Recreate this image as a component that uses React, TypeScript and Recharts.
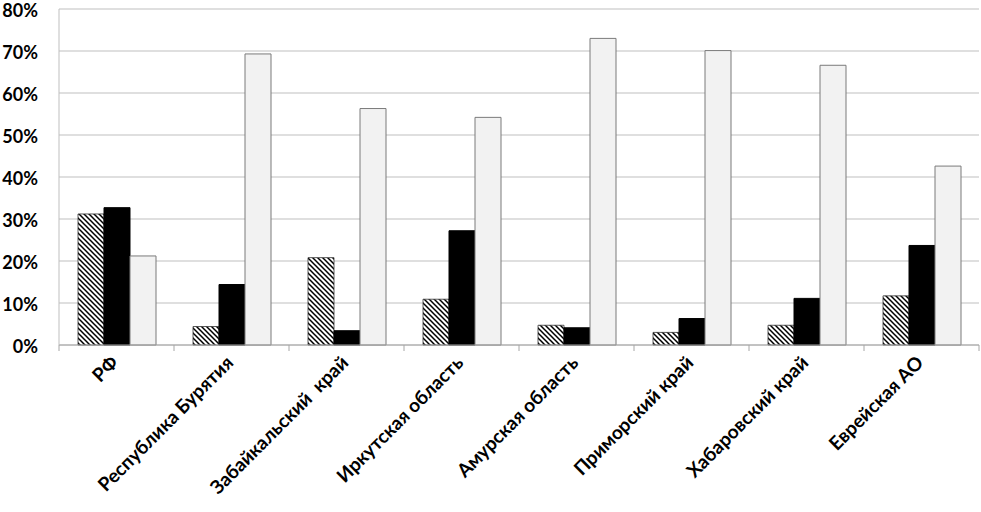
import { BarChart, Bar, XAxis, YAxis, CartesianGrid } from 'recharts'

const REGIONS = [
  'РФ',
  'Республика Бурятия',
  'Забайкальский  край',
  'Иркутская область',
  'Амурская область',
  'Приморский край',
  'Хабаровский край',
  'Еврейская АО',
]
const HATCHED = [31.2, 4.4, 20.8, 10.9, 4.7, 3.0, 4.7, 11.7]
const BLACK = [32.7, 14.4, 3.4, 27.2, 4.1, 6.3, 11.1, 23.7]
const LIGHT = [21.2, 69.3, 56.3, 54.2, 73.0, 70.1, 66.6, 42.6]
const Y_TICKS = [0, 10, 20, 30, 40, 50, 60, 70, 80]

const W = 981
const H = 512
const PLOT_LEFT = 59
const PLOT_RIGHT = 979
const BAND = (PLOT_RIGHT - PLOT_LEFT) / REGIONS.length
const FONT = 'Lato, "Open Sans", sans-serif'

const data = REGIONS.map((name, i) => ({
  name,
  hatched: HATCHED[i],
  black: BLACK[i],
  light: LIGHT[i],
}))

function CategoryTick(props: any) {
  const { x, y, payload, index } = props
  const half = BAND / 2
  const tx = x + 3
  const ty = y + 19
  return (
    <g>
      <line x1={x - half} y1={y} x2={x - half} y2={y + 6} stroke="#a6a6a6" />
      {index === REGIONS.length - 1 && (
        <line x1={x + half} y1={y} x2={x + half} y2={y + 6} stroke="#a6a6a6" />
      )}
      <text
        x={tx}
        y={ty}
        textAnchor="end"
        transform={`rotate(-45, ${tx}, ${ty})`}
        fontFamily={FONT}
        fontWeight={700}
        fontSize={19}
        fill="#000"
        style={{ whiteSpace: 'pre' }}
      >
        {payload.value}
      </text>
    </g>
  )
}

export default function App() {
  return (
    <div style={{ position: 'absolute', left: 0, top: 0, width: W, height: H, background: '#fff' }}>
      <svg width={0} height={0} style={{ position: 'absolute' }}>
        <defs>
          <pattern id="hatch" width={5} height={5} patternUnits="userSpaceOnUse">
            <rect width={5} height={5} fill="#fff" />
            <path d="M-1,-1 L6,6 M4,-1 L6,1 M-1,4 L1,6" stroke="#000" strokeWidth={1.5} />
          </pattern>
        </defs>
      </svg>
      <BarChart
        width={W}
        height={H}
        data={data}
        margin={{ top: 9, right: W - PLOT_RIGHT, bottom: 0, left: 0 }}
        barCategoryGap={19}
        barGap={0}
      >
        <CartesianGrid vertical={false} stroke="#bfbfbf" strokeWidth={1.2} />
        <XAxis
          dataKey="name"
          height={167}
          interval={0}
          axisLine={{ stroke: '#a6a6a6' }}
          tickLine={false}
          tickSize={0}
          tickMargin={0}
          tick={<CategoryTick />}
        />
        <YAxis
          width={PLOT_LEFT}
          domain={[0, 80]}
          ticks={Y_TICKS}
          interval={0}
          axisLine={{ stroke: '#bfbfbf' }}
          tickLine={false}
          tickSize={0}
          tickMargin={21}
          tickFormatter={(v: number) => `${v}%`}
          tick={{ fontFamily: FONT, fontWeight: 700, fontSize: 18, fill: '#000', dy: 2 }}
        />
        <Bar dataKey="hatched" fill="url(#hatch)" stroke="#333" strokeWidth={0.8} isAnimationActive={false} />
        <Bar dataKey="black" fill="#000" stroke="#000" isAnimationActive={false} />
        <Bar dataKey="light" fill="#f2f2f2" stroke="#7a7a7a" strokeWidth={1} isAnimationActive={false} />
      </BarChart>
    </div>
  )
}
